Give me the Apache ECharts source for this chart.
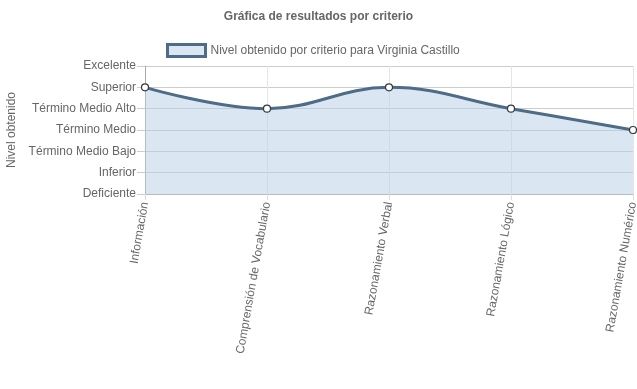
<!DOCTYPE html>
<html><head><meta charset="utf-8">
<script src="https://cdn.jsdelivr.net/npm/echarts@6/dist/echarts.min.js"></script>
<style>html,body{margin:0;padding:0;background:#fff}#c{width:637px;height:389px}</style>
</head><body><div id="c"></div>
<script>
const categories = ['Información','Comprensión de Vocabulario','Razonamiento Verbal','Razonamiento Lógico','Razonamiento Numérico'];
const levels = ['Deficiente','Inferior','Término Medio Bajo','Término Medio','Término Medio Alto','Superior','Excelente'];
const values = [5, 4, 5, 4, 3];
const seriesName = 'Nivel obtenido por criterio para Virginia Castillo';

const font = '"Liberation Sans", Arial, sans-serif';
const chart = echarts.init(document.getElementById('c'));
chart.setOption({
  animation: false,
  title: {text: 'Gráfica de resultados por criterio', left: 'center', top: 6,
    textStyle: {fontFamily: font, fontSize: 12, fontWeight: 'bold', color: '#666'}},
  legend: {top: 38, left: 161, itemWidth: 38, itemHeight: 12, itemGap: 6,
    textStyle: {fontFamily: font, fontSize: 12, color: '#666'},
    data: [{name: seriesName, icon: 'rect', itemStyle: {color: '#dae6f2', borderColor: '#4e6b87', borderWidth: 3}}]},
  grid: {left: 145, right: 4, top: 66, height: 128, containLabel: false, outerBoundsMode: 'none'},
  xAxis: {type: 'category', data: categories, boundaryGap: false,
    axisLine: {show: true, lineStyle: {color: '#bbb'}},
    axisTick: {show: true, length: 6, lineStyle: {color: '#ddd'}},
    splitLine: {show: true, lineStyle: {color: '#e6e6e6'}},
    axisLabel: {rotate: 80, fontFamily: font, fontSize: 12, color: '#666', margin: 8, interval: 0}},
  yAxis: {type: 'value', min: 0, max: 6, interval: 1,
    name: 'Nivel obtenido', nameLocation: 'middle', nameGap: 125, nameRotate: 90,
    nameTextStyle: {fontFamily: font, fontSize: 12, color: '#666'},
    axisLine: {show: true, lineStyle: {color: '#aaa'}},
    axisTick: {show: true, length: 8, lineStyle: {color: '#ccc'}},
    splitLine: {show: true, lineStyle: {color: '#ccc'}},
    axisLabel: {fontFamily: font, fontSize: 12, color: '#666', margin: 9,
      formatter: v => levels[v]}},
  series: [{name: seriesName, type: 'line', data: values, smooth: 0.4,
    symbol: 'circle', symbolSize: 7,
    lineStyle: {color: '#4e6b87', width: 3},
    itemStyle: {color: '#fff', borderColor: '#33393f', borderWidth: 1.2},
    areaStyle: {color: 'rgba(181,207,229,0.5)', opacity: 1, origin: 'start'}}]
});
</script></body></html>
